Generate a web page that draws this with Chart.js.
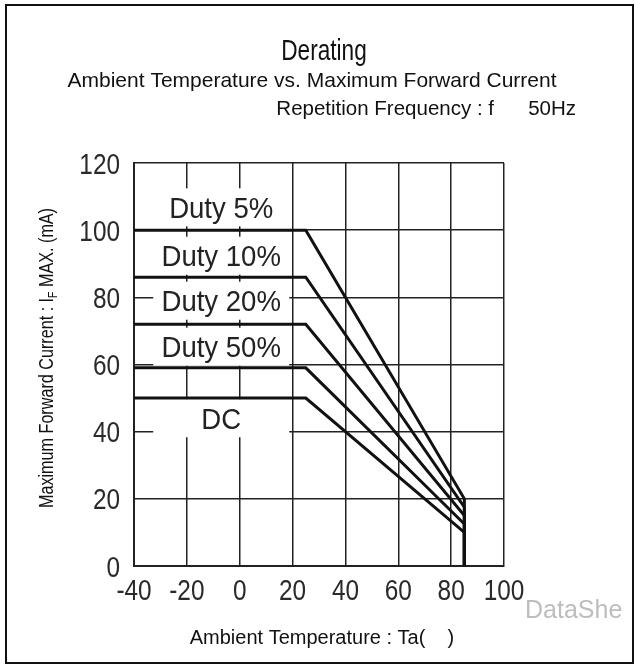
<!DOCTYPE html>
<html><head><meta charset="utf-8">
<script src="https://cdn.jsdelivr.net/npm/chart.js@4.4.0/dist/chart.umd.min.js"></script>
<style>html,body{margin:0;padding:0;background:#fff;overflow:hidden}</style>
</head><body><canvas id="c" width="636" height="666"></canvas>
<script>
const seriesNames = ['Duty 5%', 'Duty 10%', 'Duty 20%', 'Duty 50%', 'DC'];
const ambientTemps = [-40, 25, 85, 85];
const duty5 = [100, 100, 20, 0];
const duty10 = [86, 86, 17.5, 0];
const duty20 = [72, 72, 15, 0];
const duty50 = [59, 59, 12.5, 0];
const dcCurrent = [50, 50, 10, 0];
const xTickValues = [-40, -20, 0, 20, 40, 60, 80, 100];
const yTickValues = [0, 20, 40, 60, 80, 100, 120];

const seriesValues = [duty5, duty10, duty20, duty50, dcCurrent];
const SANS = "'Liberation Sans', Arial, sans-serif";

function drawText(ctx, txt, x, y, size, sx, align, color, rot) {
  ctx.save();
  ctx.font = size + 'px ' + SANS;
  ctx.translate(x, y);
  if (rot) ctx.rotate(rot);
  ctx.scale(sx || 1, 1);
  ctx.fillStyle = color || '#000';
  ctx.textAlign = align || 'center';
  ctx.textBaseline = 'alphabetic';
  ctx.fillText(txt, 0, 0);
  ctx.restore();
}

// label placement (data coords for centre) – layout only
const labelLayout = [
  { x: -7, y: 106.8 },
  { x: -7, y: 92.4 },
  { x: -7, y: 79.0 },
  { x: -7, y: 65.3 },
  { x: -7, y: 44.0 }
];

const decor = {
  id: 'decor',
  beforeDraw(chart) {
    const ctx = chart.ctx;
    ctx.save();
    ctx.fillStyle = '#fff';
    ctx.fillRect(0, 0, chart.width, chart.height);
    ctx.strokeStyle = '#111';
    ctx.lineWidth = 2;
    ctx.strokeRect(6, 5, 627, 658);
    ctx.restore();
  },
  beforeDatasetsDraw(chart) {
    const ctx = chart.ctx;
    const xs = chart.scales.x, ys = chart.scales.y;
    labelLayout.forEach((L, i) => {
      const cx = xs.getPixelForValue(L.x);
      const cy = ys.getPixelForValue(L.y);
      ctx.save();
      ctx.fillStyle = '#fff';
      ctx.fillRect(cx - 68, cy - 19, 136, 38);
      ctx.restore();
      drawText(ctx, seriesNames[i], cx, cy + 0.358 * 29, 29, 0.95, 'center', '#222');
    });
  },
  afterDraw(chart) {
    const ctx = chart.ctx;
    const xs = chart.scales.x, ys = chart.scales.y;
    // tick labels (condensed face), positioned by the chart's scales
    xs.ticks.forEach(t => {
      drawText(ctx, String(t.value), xs.getPixelForValue(t.value), 600, 29, 0.84, 'center', '#2a2a2a');
    });
    ys.ticks.forEach(t => {
      drawText(ctx, String(t.value), 120, ys.getPixelForValue(t.value) + 10.5, 29, 0.84, 'right', '#2a2a2a');
    });
    drawText(ctx, 'Derating', 324, 60, 29, 0.78, 'center', '#111');
    drawText(ctx, 'Ambient Temperature vs. Maximum Forward Current', 312, 87, 21, 1, 'center', '#111');
    drawText(ctx, 'Repetition Frequency : f      50Hz', 576, 115, 20.5, 1, 'right', '#111');
    // y-axis title with subscript
    ctx.save();
    ctx.translate(53, 358);
    ctx.rotate(-Math.PI / 2);
    ctx.font = '20px ' + SANS;
    const p1 = 'Maximum Forward Current : I', sub = 'F', p2 = ' MAX. (mA)';
    const w1 = ctx.measureText(p1).width, w3 = ctx.measureText(p2).width;
    ctx.font = '13px ' + SANS;
    const w2 = ctx.measureText(sub).width;
    const total = w1 + w2 + w3;
    ctx.scale(300 / total, 1);
    ctx.fillStyle = '#111';
    ctx.textBaseline = 'alphabetic';
    ctx.textAlign = 'left';
    const x0 = -total / 2;
    ctx.font = '20px ' + SANS; ctx.fillText(p1, x0, 0);
    ctx.font = '13px ' + SANS; ctx.fillText(sub, x0 + w1, 4);
    ctx.font = '20px ' + SANS; ctx.fillText(p2, x0 + w1 + w2, 0);
    ctx.restore();
    drawText(ctx, 'Ambient Temperature : Ta(    )', 322, 644, 20, 1, 'center', '#111');
    drawText(ctx, 'DataShe', 525, 618, 25, 1, 'left', '#bdbdbd');
  }
};

const datasets = seriesValues.map((vals, i) => ({
  label: seriesNames[i],
  data: ambientTemps.map((t, j) => ({ x: t, y: vals[j] })),
  borderColor: '#111',
  borderWidth: 3,
  pointRadius: 0,
  tension: 0,
  fill: false
}));

new Chart(document.getElementById('c'), {
  type: 'line',
  data: { datasets },
  options: {
    responsive: false,
    animation: false,
    devicePixelRatio: 1,
    layout: { padding: { left: 0, top: 163, right: 132, bottom: 0 } },
    plugins: { legend: { display: false }, title: { display: false }, tooltip: { enabled: false } },
    scales: {
      x: {
        type: 'linear', min: -40, max: 100,
        afterBuildTicks: s => { s.ticks = xTickValues.map(v => ({ value: v })); },
        afterFit: s => { s.height = 100; },
        grid: { color: '#222', lineWidth: 1.5, drawTicks: false },
        border: { color: '#222', width: 2 },
        ticks: { display: false, autoSkip: false }
      },
      y: {
        type: 'linear', min: 0, max: 120,
        afterBuildTicks: s => { s.ticks = yTickValues.map(v => ({ value: v })); },
        afterFit: s => { s.width = 134; },
        grid: { color: '#222', lineWidth: 1.5, drawTicks: false },
        border: { color: '#222', width: 2 },
        ticks: { display: false, autoSkip: false }
      }
    }
  },
  plugins: [decor]
});
</script></body></html>
